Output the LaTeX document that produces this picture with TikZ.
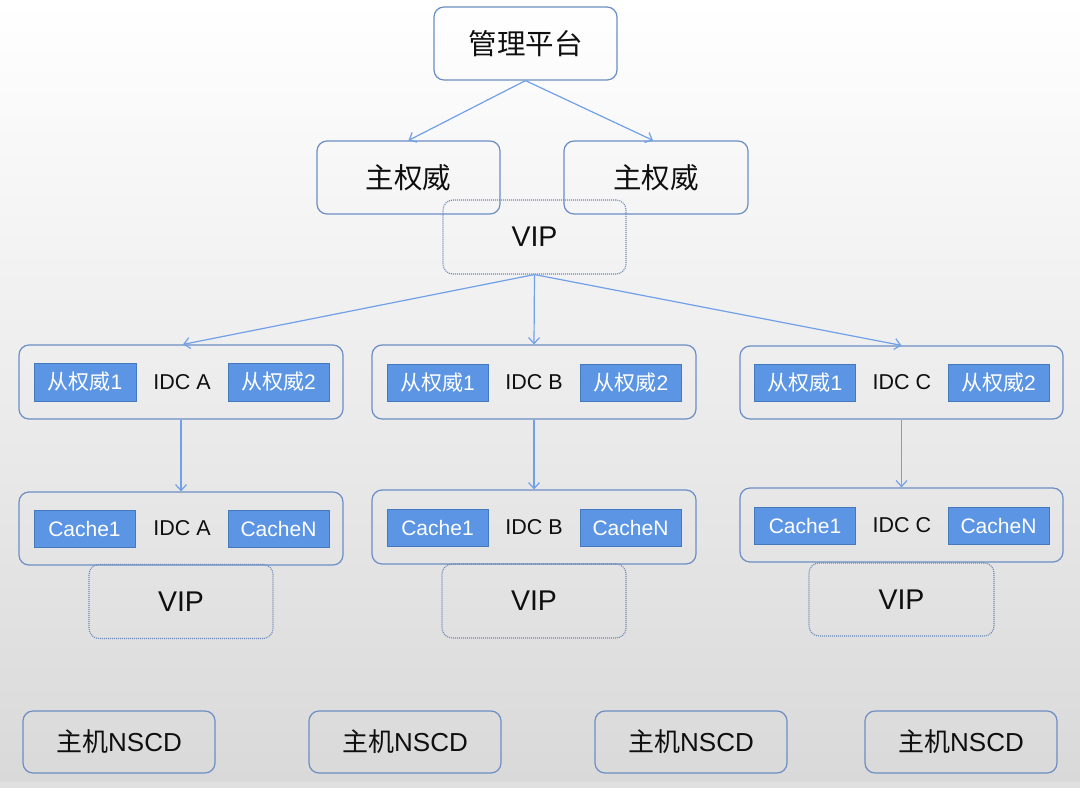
\documentclass[tikz,border=0pt]{standalone}
\usepackage{fontspec}
\setmainfont{Liberation Sans}
\newfontfamily\cjk{Noto Sans CJK SC}
\usetikzlibrary{arrows.meta}
\definecolor{boxline}{RGB}{108,142,196}
\definecolor{arrowc}{RGB}{112,160,232}
\definecolor{bluefill}{RGB}{91,149,228}
\definecolor{blueline}{RGB}{70,120,190}
\definecolor{vipline}{RGB}{105,135,185}
\definecolor{txt}{RGB}{15,15,15}
\definecolor{bgbot}{RGB}{217,217,217}
\definecolor{strip}{RGB}{224,224,224}
\tikzset{
  rbox/.style={draw=boxline, line width=1.2pt, rounded corners=10pt, text=txt, inner sep=0pt},
  bigbox/.style={rbox, minimum width=183pt, minimum height=73pt, font=\fontsize{28.5}{32}\selectfont},
  idcbox/.style={rbox, minimum width=324pt, minimum height=74pt},
  vipbox/.style={draw=vipline, line width=1.1pt, dash pattern=on 1pt off 1pt, rounded corners=10pt,
    minimum width=184pt, minimum height=74pt, text=txt, inner sep=0pt, font=\fontsize{28.5}{32}\selectfont},
  bluebox/.style={draw=blueline, line width=0.8pt, fill=bluefill, text=white, inner sep=0pt,
    minimum width=101pt, minimum height=37pt, font=\fontsize{21}{24}\selectfont},
  idclabel/.style={text=txt, inner sep=0pt, font=\fontsize{21.5}{24}\selectfont},
  hostbox/.style={rbox, minimum width=192pt, minimum height=62pt, font=\fontsize{26}{30}\selectfont},
  conn/.style={draw=arrowc, line width=1.2pt, -{Straight Barb[length=6pt,width=11pt]}}
}
\begin{document}
\begin{tikzpicture}[x=1pt,y=-1pt]
\useasboundingbox (0,0) rectangle (1080,788);
\shade[top color=white, bottom color=bgbot] (0,0) rectangle (1080,782);
\fill[strip] (0,782) rectangle (1080,788);

% top level
\node[bigbox] (top) at (525.5,43.5) {\cjk 管理平台};
\node[bigbox] (mL) at (408.5,177.5) {\cjk 主权威};
\node[bigbox, minimum width=184pt] (mR) at (656,177.5) {\cjk 主权威};
\node[vipbox, minimum width=183pt] (vip0) at (534.5,237) {VIP};

% IDC A
\node[idcbox] (idcA) at (181,382) {};
\node[bluebox, minimum height=38pt, minimum width=102pt] (a1) at (85,382) {{\cjk 从权威}1};
\node[bluebox, minimum height=38pt] (a2) at (278.5,382) {{\cjk 从权威}2};
\node[idclabel] (la) at (182,382) {IDC A};
\node[idcbox, minimum height=73pt] (cacheA) at (181,528.5) {};
\node[bluebox] (ca1) at (84.5,528.5) {Cache1};
\node[bluebox] (ca2) at (278.5,528.5) {CacheN};
\node[idclabel] (lca) at (182,528.5) {IDC A};
\node[vipbox] (vipA) at (181,601.5) {VIP};

% IDC B
\node[idcbox] (idcB) at (534,382) {};
\node[bluebox] (b1) at (437.5,382.5) {{\cjk 从权威}1};
\node[bluebox] (b2) at (631,382.5) {{\cjk 从权威}2};
\node[idclabel] (lb) at (534,382.5) {IDC B};
\node[idcbox] (cacheB) at (534,527) {};
\node[bluebox] (cb1) at (437.5,527.5) {Cache1};
\node[bluebox] (cb2) at (630.5,527.5) {CacheN};
\node[idclabel] (lcb) at (534,527.5) {IDC B};
\node[vipbox] (vipB) at (534,601) {VIP};

% IDC C
\node[idcbox, minimum width=323pt, minimum height=73pt] (idcC) at (901.5,382.5) {};
\node[bluebox] (c1) at (805,382.5) {{\cjk 从权威}1};
\node[bluebox] (c2) at (998.5,382.5) {{\cjk 从权威}2};
\node[idclabel] (lc) at (902,382.5) {IDC C};
\node[idcbox, minimum width=323pt] (cacheC) at (901.5,525) {};
\node[bluebox] (cc1) at (805,525.5) {Cache1};
\node[bluebox] (cc2) at (998.5,525.5) {CacheN};
\node[idclabel] (lcc) at (902,525.5) {IDC C};
\node[vipbox, minimum width=185pt, minimum height=73pt] (vipC) at (901.5,599.5) {VIP};

% hosts
\node[hostbox] (h1) at (119,742) {{\cjk 主机}NSCD};
\node[hostbox] (h2) at (405,742) {{\cjk 主机}NSCD};
\node[hostbox] (h3) at (691,742) {{\cjk 主机}NSCD};
\node[hostbox] (h4) at (961,742) {{\cjk 主机}NSCD};

% connectors
\draw[conn] (top.south) -- (mL.north);
\draw[conn] (top.south) -- ([xshift=-3pt]mR.north);
\draw[conn] (vip0.south) -- ([xshift=2pt]idcA.north);
\draw[conn] (vip0.south) -- (idcB.north);
\draw[conn] (vip0.south) -- (idcC.north);
\draw[conn] (idcA.south) -- (cacheA.north);
\draw[conn] (idcB.south) -- (cacheB.north);
\draw[conn] (idcC.south) -- (cacheC.north);
\end{tikzpicture}
\end{document}
